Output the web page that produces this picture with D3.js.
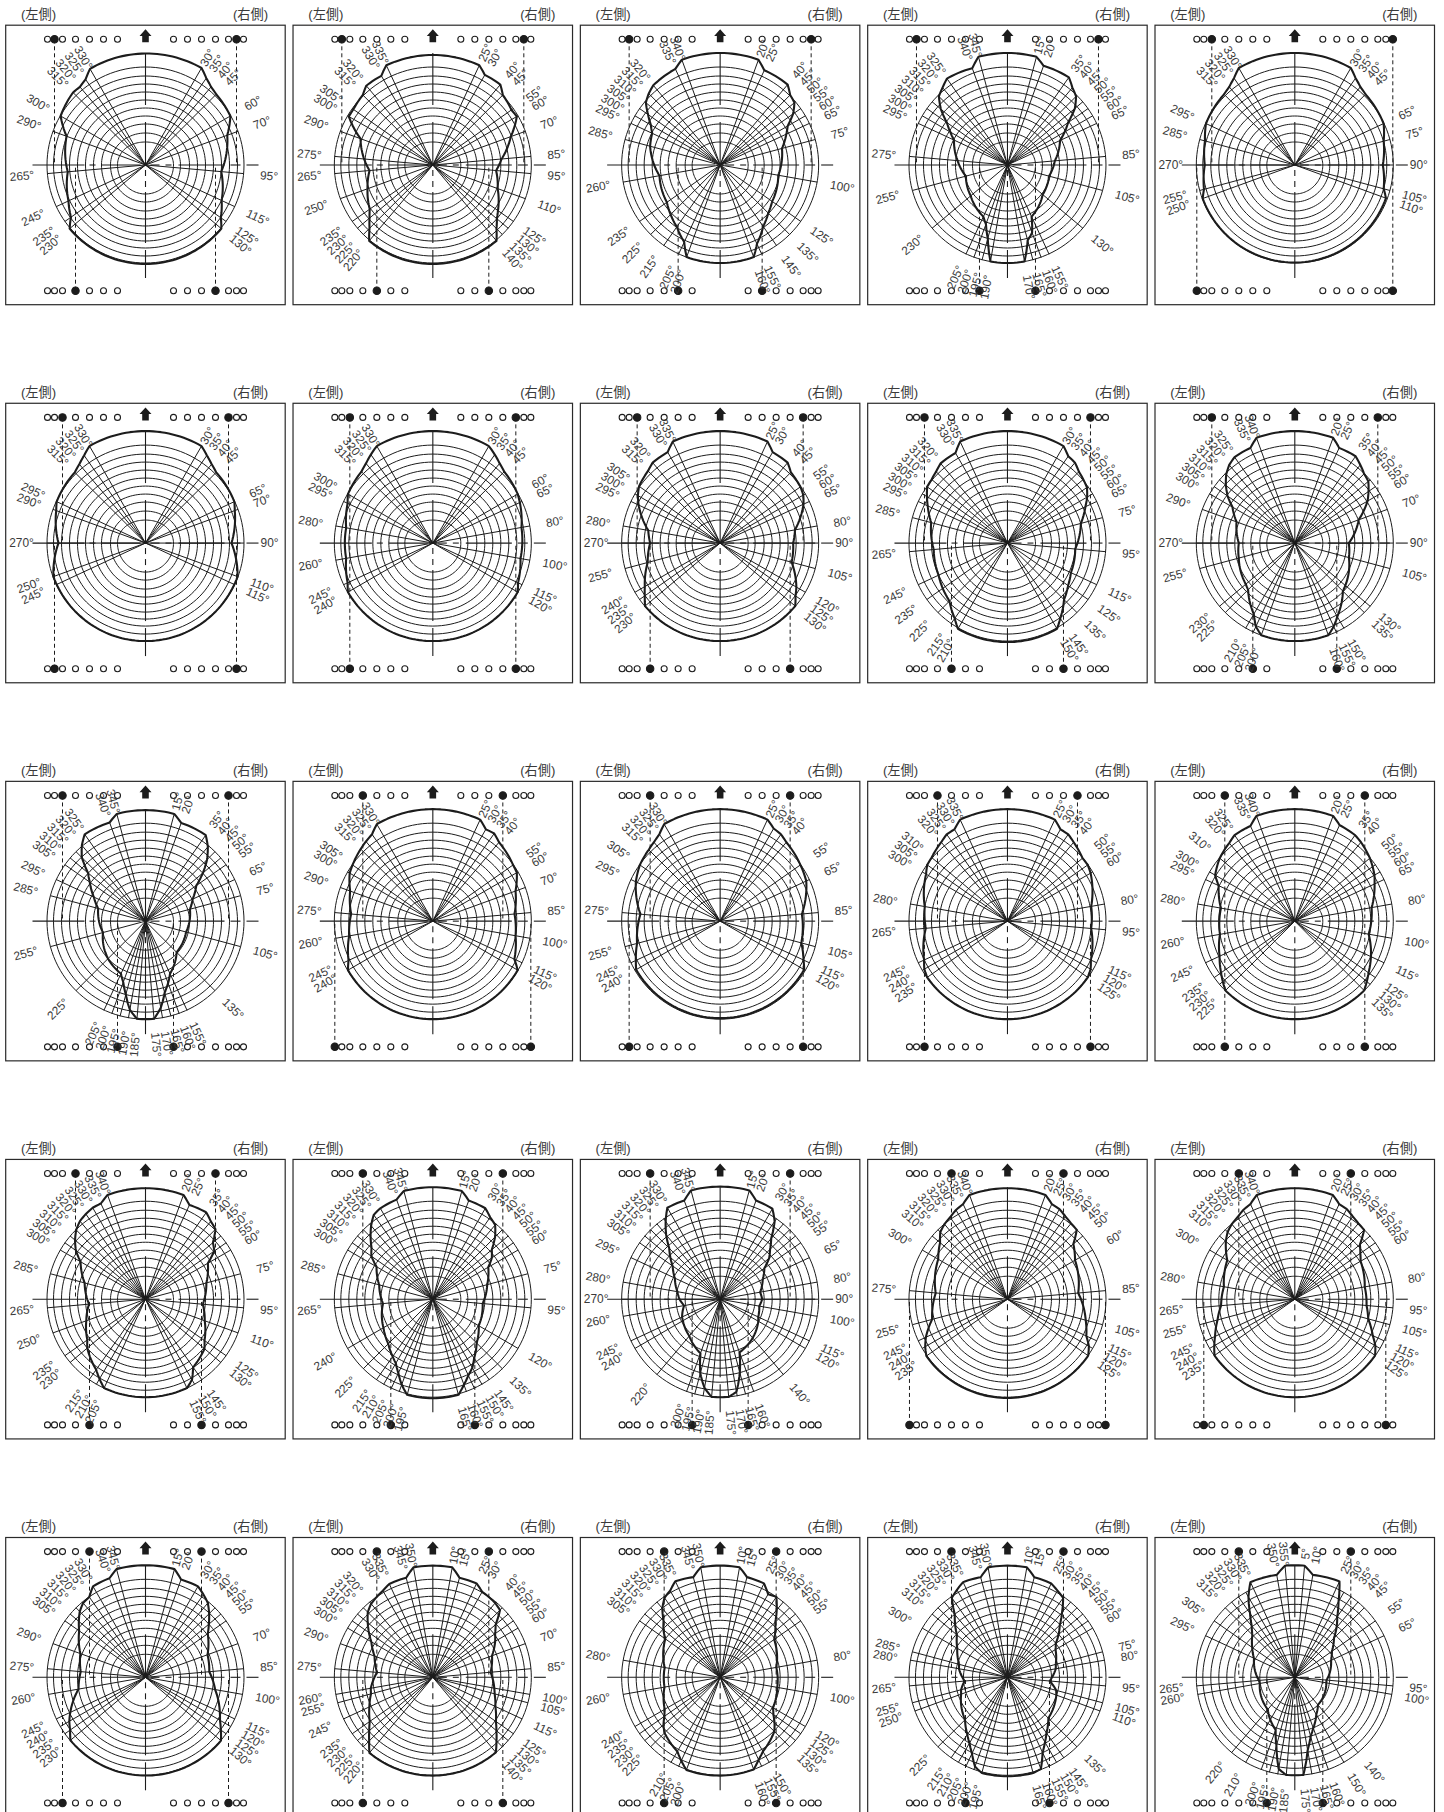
<!DOCTYPE html>
<html lang="ja"><head><meta charset="utf-8"><title>chart</title>
<script src="https://cdn.jsdelivr.net/npm/d3@7/dist/d3.min.js"></script>
<style>html,body{margin:0;background:#fff}svg{display:block}</style></head>
<body><div id="c"></div>
<script>
// ray / label angles and outline radius at each, panel by panel (row, column)
const a11=[30,35,40,45,60,70,95,115,125,130,230,235,245,265,290,300,315,320,325,330];
const r11=[112,106,102,100,98,87,76,84,92,99,99,91,85,78,84,98,102.5,102,104.5,111];
const a12=[25,30,40,45,55,60,70,85,95,110,125,130,135,140,220,225,230,235,250,265,275,290,300,305,315,320,330,335];
const r12=[110,104,105,99,96,97,83,69,63.5,69,79.5,83.6,90,99,99,89.5,82.6,77,69.5,63.5,69,77,97,97,99,103.5,103,110];
const a13=[20,25,40,45,50,55,60,65,75,100,125,135,145,155,160,200,205,215,225,235,260,285,295,300,305,310,315,320,335,340];
const r13=[112,104.5,105,99,97,89,78,73,64,59,63.5,68,75,87,98,98,85,75.5,70,65,61.6,72.5,75,80,88,97,101,104,106,112];
const a14=[15,20,35,40,45,50,55,60,65,85,105,130,155,160,165,170,190,195,200,205,230,255,275,295,300,305,310,315,320,325,340,345];
const r14=[112,105.6,107,101,97,88,74,66,58,47.5,43,46,57,72,78,98,98,76,63,57,48,43,50,59,66,74,87,97,101,105.5,103,112];
const a15=[30,35,40,45,65,75,90,105,110,250,255,270,285,295,315,320,325,330];
const r15=[112,106,102,100,98,92,88,92,97,98,94,90,93,98,100,102,106,112];
const a21=[30,35,40,45,65,70,90,110,115,245,250,270,290,295,315,320,325,330];
const r21=[112,107,103,100,98,95,86,98,98,98,98,87,95,98,100,103,107,112];
const a22=[30,35,40,45,60,65,80,100,115,120,240,245,260,280,295,300,315,320,325,330];
const r22=[112,108,104,101,98,96,90,89,94,98,98,94,88,88,94,98,101,104,108,112];
const a23=[25,30,40,45,55,60,65,80,90,105,120,125,130,230,235,240,255,270,280,295,300,305,315,320,330,335];
const r23=[112,105,105,100,98,96,92,76,73,74,88,92,98,98,92,87,75,70,73,90,95,99,102,105,105,112];
const a24=[30,35,40,45,50,55,60,65,75,95,115,125,135,145,150,210,215,225,235,245,265,285,295,300,305,310,315,320,330,335];
const r24=[112,106,105,101,99,97,92,86,76,68,70,74,80,92,99,99,92,82,79,76,74,79,88,93,98,99,101,104,104,112];
const a25=[20,25,35,40,45,50,55,60,70,90,105,130,135,150,155,160,200,205,210,225,230,255,270,290,300,305,310,315,320,325,335,340];
const r25=[112,105,106,102,98,96,90,84,68,54,56,66,68,85,92,98,98,92,82,66,64,58,56,62,72,82,90,97,102,105,105,112];
const a31=[15,20,35,40,45,50,55,65,75,105,135,155,160,165,170,175,185,190,195,200,205,225,255,285,295,305,310,315,320,325,340,345];
const r31=[111,104.5,105,97,87,75,62,52,46,42,44,58,66,74,88,98,98,90,76,65,58,53,44,49,57,68,75,90,99,106,105,111];
const a32=[25,30,35,40,55,60,70,85,100,115,120,240,245,260,275,290,300,305,315,320,325,330];
const r32=[112,106,107,103,98,97,88,82,84,90,98,98,93,85,82,88,96,98,102,104,106,112];
const a33=[25,30,35,40,55,65,85,105,115,120,240,245,255,275,295,305,315,320,325,330];
const r33=[112,107,106,103,98,95,82,84,92,97,97,93,86,80,93,98,101,103,106,112];
const a34=[25,30,35,40,50,55,60,80,95,115,120,125,235,240,245,265,280,300,305,310,320,325,330,335];
const r34=[112,106,106,103,98,98,96,85,84,92,96,98,98,96,92,82,84,94,98,99,103,106,106,112];
const a35=[20,25,35,40,50,55,60,65,80,100,115,125,130,135,225,230,235,245,260,280,295,300,310,320,325,335,340];
const r35=[112,106,105,103,98,95,92,88,78,75,84,90,94,98,98,94,90,83,76,75,84,92,98,102,105,105,112];
const a41=[20,25,35,40,45,50,55,60,75,95,110,125,130,145,150,155,205,210,215,230,235,250,265,285,300,305,310,315,320,325,330,335,340];
const r41=[111,104,106,101.6,99,88,84,72,63,57.5,63,72,77,83,93,98,98,92,86,76,71,63,56.7,63,75,85,92,98,102,104,105.6,105.6,111];
const a42=[15,20,30,35,40,45,50,55,60,75,95,120,135,145,150,155,160,165,195,200,205,210,215,225,240,265,285,300,305,310,315,320,325,330,340,345];
const r42=[112,105,105,100,97,88,77,72,64,56.3,50,53,62,72,79,84,91,99,99,91,81.5,74,70,63,57,50,55.5,65,75,80,88,96,103,105,106,112];
const a43=[15,20,30,35,40,45,50,55,65,80,90,100,115,120,140,160,165,170,175,185,190,195,200,220,240,245,260,270,280,295,305,310,315,320,325,330,340,345];
const r43=[112.6,105,104.5,95,79.5,70.6,64,54,47,40.6,42,39.7,42,44,50.6,56.6,76,94,98,98,90,76.7,57.6,48,43,42,36.6,40.6,43.4,50,58,65,72,84,95,105.6,105,112.6];
const a44=[20,25,30,35,40,45,50,60,85,105,115,120,125,235,240,245,255,275,300,310,315,320,325,330,335,340];
const r44=[111,105,104,101,99,98,86,78,71,81,87,94,98.5,99,95,90,78,72,80,88,95,98,100,103,105,111];
const a45=[20,25,30,35,40,45,50,55,60,80,95,105,115,120,125,235,240,245,255,265,280,300,310,315,320,325,330,335,340];
const r45=[111,105,104,101,99,98,85,80,76,71,72,76,86,93,98,98,93,88,80,74,72,78,90,95,98,100,103,105,111];
const a51=[15,20,30,35,40,45,50,55,70,85,100,115,120,125,130,230,235,240,245,260,275,290,305,310,315,320,325,330,340,345];
const r51=[112,104,105,101,97,90,82.7,76,66,64,70.7,82,86,92,98.5,98,92,88,83,68,65,69.3,81,87,93,97,98,105,105.4,112];
const a52=[10,15,25,30,40,45,50,55,60,70,85,100,105,115,125,130,135,140,220,225,230,235,245,255,260,275,290,300,305,310,315,320,330,335,345,350];
const r52=[111.7,103,103.5,98.7,97,95,82,76,72,63,58,62.4,64,69,77,83,90,98,98.6,90,83,77,70,64,63,56,62,71,78,85,92,96,100,103,103,111.6];
const a53=[10,15,25,30,35,40,45,50,55,80,100,120,125,130,135,150,155,160,200,205,210,225,230,235,240,260,280,305,310,315,320,325,330,335,345,350];
const r53=[111.7,103.7,103.6,96,98,88,78,72,66,57,58,61,65,71,76.6,85.6,91,98,98.6,92,85.6,78.6,74,68,64,56.5,56.3,67,74,80,90,97,100,106,103.7,111.7];
const a54=[10,15,25,30,35,40,45,50,55,60,75,80,95,105,110,135,145,150,155,160,165,195,200,205,210,215,225,250,255,265,280,285,300,310,315,320,325,330,335,345,350];
const r54=[111.7,103.6,103.5,100,97,85,74,66.8,59,55.5,50,49,42.4,50.4,52,57.8,68,75,83,97.6,99,99,95,84,76,70,60,49.3,48,43,49.3,50,58,66,74,82,97,101,105,103.6,111.6];
const a55=[5,10,25,30,35,40,45,55,65,95,100,140,150,160,165,170,175,185,190,195,200,210,220,260,265,295,305,315,320,325,330,335,350,355];
const r55=[112,104,105.7,87.5,74,65,55.4,45.3,40,31.8,32,36,43,54,61,74,98,98,93,71,56,49,42,35.5,36,45,52,60,67,78,92.7,105,104,112];

const angleLists=[a11,a12,a13,a14,a15,a21,a22,a23,a24,a25,a31,a32,a33,a34,a35,a41,a42,a43,a44,a45,a51,a52,a53,a54,a55];
const radiusLists=[r11,r12,r13,r14,r15,r21,r22,r23,r24,r25,r31,r32,r33,r34,r35,r41,r42,r43,r44,r45,r51,r52,r53,r54,r55];
// black-dot slot (0 = outermost … 6 = innermost) per panel
const dotTopLeft =[1,1,1,1,2, 2,2,2,2,2, 2,3,3,3,3, 3,3,3,4,4, 4,4,4,4,4];
const dotTopRight=[1,1,1,1,0, 2,2,2,2,2, 2,3,3,3,3, 3,3,3,4,4, 4,4,4,4,4];
const dotBotLeft =[3,4,5,6,0, 1,2,3,4,5, 6,0,1,2,3, 4,5,6,0,1, 2,3,4,5,6];
const dotBotRight=[3,4,5,6,0, 1,2,3,4,5, 6,0,2,2,3, 4,5,6,0,1, 2,3,4,5,6];
const dotSlots=[98,91,83,70,56,42,28];
// grid rings: radius towards top, side, bottom
const ringTop=[23,32,41,49,57,65,73,81,89,98];
const ringSide=[28,35,44,52,60,68,76,84,92,98.5];
const ringBottom=[29,37,46,54,61,69,76,83,91,98];
const sideLabels=["(左側)","(右側)"];

const W=1444,H=1812;
const colX=d3.scaleLinear().domain([0,4]).range([145.5,1294.8]);
const rowY=d3.scaleLinear().domain([0,4]).range([165,1677.3]);
const R=d3.scaleLinear().domain([0,100]).range([0,100]);
const ink="#1c1c1c";
const rad=d=>d*Math.PI/180;
const svg=d3.select("#c").append("svg").attr("width",W).attr("height",H).attr("viewBox",[0,0,W,H]);
const font="'Liberation Sans',Arial,sans-serif";

const radial=d3.lineRadial().angle(d=>rad(d[0])).radius(d=>R(d[1]));
const sweep=d3.range(0,361,3);

angleLists.forEach((angles,i)=>{
  const col=i%5,row=Math.floor(i/5),radii=radiusLists[i];
  const g=svg.append("g").attr("transform",`translate(${colX(col)},${rowY(row)})`);
  const outline=d3.scaleLinear()
    .domain([angles[angles.length-1]-360,...angles,angles[0]+360])
    .range([radii[radii.length-1],...radii,radii[0]]);
  // frame
  g.append("rect").attr("x",-139.8).attr("y",-139.8).attr("width",279.5).attr("height",279.5)
    .attr("fill","none").attr("stroke","#2a2a2a").attr("stroke-width",1.2);
  // side headings
  g.selectAll("text.head").data(sideLabels).join("text").attr("class","head")
    .attr("x",(d,k)=>k?105:-107).attr("y",-146.5).attr("text-anchor","middle")
    .attr("font-family","'Liberation Sans','Noto Sans CJK JP',sans-serif").attr("font-size",13.2).attr("fill","#3a3a3a").text(d=>d);
  // rings
  g.selectAll("path.ring").data(ringSide).join("path").attr("class","ring")
    .attr("fill","none").attr("stroke",ink).attr("stroke-width",1)
    .attr("d",(s,k)=>radial(sweep.map(a=>{
      const t=Math.sin(rad(a))**2,v=Math.cos(rad(a))>0?ringTop[k]:ringBottom[k];
      return [a,v+(s-v)*t];
    })));
  // rays
  g.selectAll("line.ray").data(angles).join("line").attr("class","ray")
    .attr("x1",0).attr("y1",0)
    .attr("x2",a=>R(Math.max(98.5,outline(a)))*Math.sin(rad(a)))
    .attr("y2",a=>-R(Math.max(98.5,outline(a)))*Math.cos(rad(a)))
    .attr("stroke",ink).attr("stroke-width",1);
  // axes, broken centre lines
  const hSegs=[[-113,-61],[-56,-50],[-44,-5],[5,14],[20,26],[33,79],[85,95],[101,113]];
  const vSegs=[[-112,-60],[-43,0],[5,11],[16,22],[27,78],[85,113]];
  g.selectAll("line.h").data(hSegs).join("line").attr("class","h")
    .attr("x1",d=>d[0]).attr("x2",d=>d[1]).attr("y1",0).attr("y2",0).attr("stroke",ink).attr("stroke-width",1.1);
  g.selectAll("line.v").data(vSegs).join("line").attr("class","v")
    .attr("y1",d=>d[0]).attr("y2",d=>d[1]).attr("x1",0).attr("x2",0).attr("stroke",ink).attr("stroke-width",1.1);
  // dots and dashed droppers
  const slots=[
    {sx:-1,sy:-1,on:dotTopLeft[i]},{sx:1,sy:-1,on:dotTopRight[i]},
    {sx:-1,sy:1,on:dotBotLeft[i]},{sx:1,sy:1,on:dotBotRight[i]}];
  slots.forEach(s=>{
    g.append("line").attr("x1",s.sx*dotSlots[s.on]).attr("x2",s.sx*dotSlots[s.on])
      .attr("y1",s.sy*125.7).attr("y2",0)
      .attr("stroke",ink).attr("stroke-width",1).attr("stroke-dasharray","4 3");
  });
  // outline
  const pts=Array.from(new Set([...d3.range(0,360,2),...angles])).sort((a,b)=>a-b);
  g.append("path").attr("fill","none").attr("stroke",ink).attr("stroke-width",2.1)
    .attr("stroke-linejoin","round")
    .attr("d",radial(pts.map(a=>[a,outline(a)]))+"Z");
  slots.forEach(s=>{
    g.selectAll(null).data(dotSlots).join("circle")
      .attr("cx",d=>s.sx*d).attr("cy",s.sy*125.7)
      .attr("r",(d,k)=>k===s.on?3.7:3)
      .attr("fill",(d,k)=>k===s.on?ink:"#fff").attr("stroke",ink).attr("stroke-width",1.1);
  });
  // arrow
  g.append("path").attr("d",d3.line()([[0,-135.7],[6,-129],[3.3,-129],[3.3,-122.7],[-3.3,-122.7],[-3.3,-129],[-6,-129]])+"Z").attr("fill",ink);
  // angle labels
  g.selectAll("text.lab").data(angles).join("text").attr("class","lab")
    .attr("transform",a=>{
      const x=124*Math.sin(rad(a)),y=-124*Math.cos(rad(a));
      return `translate(${x},${y}) rotate(${a<=180?a-90:a-270})`;
    })
    .attr("text-anchor","middle").attr("dy","0.35em")
    .attr("font-family",font).attr("font-size",11.9).attr("fill","#3a3a3a")
    .text(a=>a+"°");
});
</script></body></html>
